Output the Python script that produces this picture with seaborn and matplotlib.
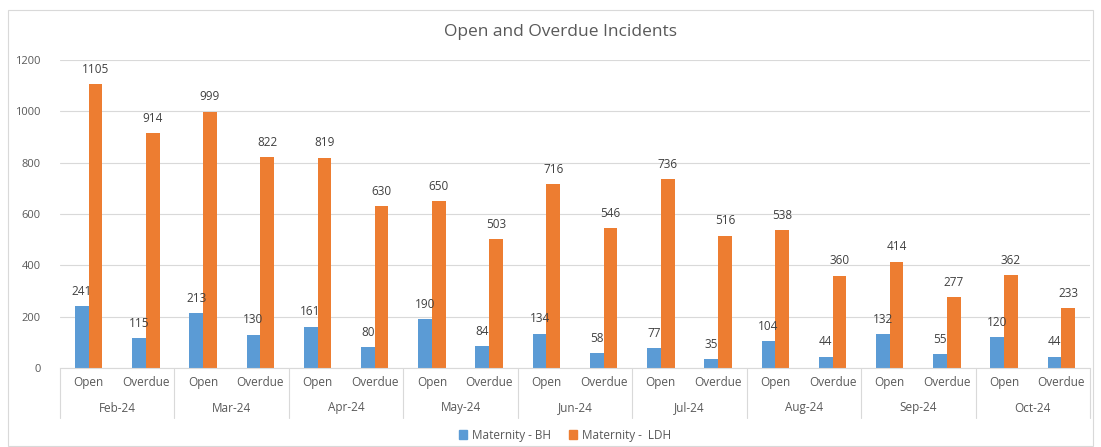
import matplotlib
matplotlib.use("Agg")
import matplotlib.pyplot as plt
import seaborn as sns
import pandas as pd
from matplotlib.patches import Rectangle
from matplotlib.lines import Line2D

months = ["Feb-24", "Mar-24", "Apr-24", "May-24", "Jun-24", "Jul-24", "Aug-24", "Sep-24", "Oct-24"]
kinds = ["Open", "Overdue"]
series = ["Maternity - BH", "Maternity -  LDH"]
bh_open = [241, 213, 161, 190, 134, 77, 104, 132, 120]
bh_overdue = [115, 130, 80, 84, 58, 35, 44, 55, 44]
ldh_open = [1105, 999, 819, 650, 716, 736, 538, 414, 362]
ldh_overdue = [914, 822, 630, 503, 546, 516, 360, 277, 233]
yticks = [0, 200, 400, 600, 800, 1000, 1200]

rows = []
for i, m in enumerate(months):
    for k, (b, l) in zip(kinds, [(bh_open[i], ldh_open[i]), (bh_overdue[i], ldh_overdue[i])]):
        cat = f"{m}|{k}"
        rows.append({"cat": cat, "series": series[0], "value": b})
        rows.append({"cat": cat, "series": series[1], "value": l})
df = pd.DataFrame(rows)
order = [f"{m}|{k}" for m in months for k in kinds]

sns.set_style("white")
plt.rcParams["font.family"] = ["Open Sans", "DejaVu Sans"]
txt = "#595959"

fig = plt.figure(figsize=(11.01, 4.47), dpi=100)
ax = fig.add_axes([60 / 1101, 1 - 368 / 447, 1030 / 1101, (368 - 60) / 447])

sns.barplot(data=df, x="cat", y="value", hue="series", order=order,
            hue_order=series, palette=["#5B9BD5", "#ED7D31"], width=0.48,
            gap=0, saturation=1, ax=ax, legend=False, errorbar=None, linewidth=0)

for cont in ax.containers:
    ax.bar_label(cont, padding=6, fontsize=8.5, color="#404040")

ax.set_ylim(0, 1200)
ax.set_xlim(-0.5, len(order) - 0.5)
ax.set_yticks(yticks)
ax.set_yticklabels([str(v) for v in yticks], fontsize=8, color=txt)
ax.yaxis.grid(True, color="#D9D9D9", linewidth=0.8)
ax.set_axisbelow(True)
for s in ["top", "right", "left"]:
    ax.spines[s].set_visible(False)
ax.spines["bottom"].set_color("#D9D9D9")
ax.tick_params(axis="y", length=0, pad=14)
ax.tick_params(axis="x", length=0, pad=6)
ax.set_xticks(range(len(order)))
ax.set_xticklabels([k for m in months for k in kinds], fontsize=8.5, color=txt)
ax.set_xlabel("")
ax.set_ylabel("")

# month group labels and separators
for i, m in enumerate(months):
    ax.text(2 * i + 0.5, -40 / 308, m, transform=ax.get_xaxis_transform(),
            ha="center", va="center", fontsize=8.5, color=txt)
for i in range(len(months) + 1):
    x = 2 * i - 0.5
    ax.add_line(Line2D([x, x], [0, -50 / 308], transform=ax.get_xaxis_transform(),
                       color="#D9D9D9", linewidth=0.8, clip_on=False))

fig.text(560 / 1101, 1 - 32 / 447, "Open and Overdue Incidents", ha="center",
         va="center", fontsize=12.5, color=txt)

handles = [Rectangle((0, 0), 1, 1, color="#5B9BD5"), Rectangle((0, 0), 1, 1, color="#ED7D31")]
fig.legend(handles, series, loc="center", bbox_to_anchor=(565 / 1101, 1 - 435 / 447),
           ncol=2, frameon=False, fontsize=8.5, handlelength=0.7, handleheight=0.7,
           handletextpad=0.4, columnspacing=1.5, labelcolor=txt)

fig.patches.append(Rectangle((8 / 1101, 1 / 447), 1085 / 1101, 436 / 447,
                             transform=fig.transFigure, fill=False,
                             edgecolor="#D9D9D9", linewidth=0.8))

fig.savefig("out.png", dpi=100)
